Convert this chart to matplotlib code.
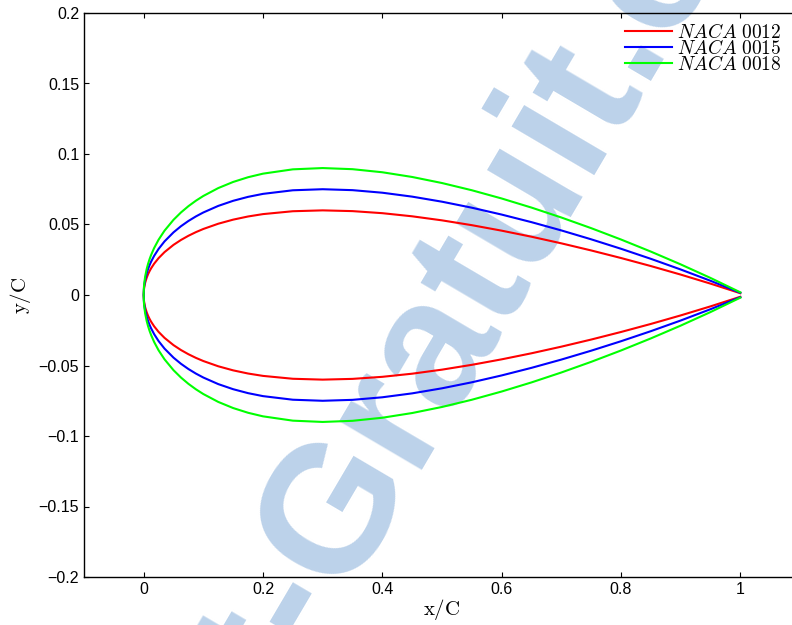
import matplotlib
matplotlib.use("Agg")
import matplotlib.pyplot as plt
from matplotlib.ticker import MultipleLocator, FuncFormatter

plt.rcParams['mathtext.fontset'] = 'cm'
plt.rcParams['font.family'] = ['Liberation Sans', 'DejaVu Sans']

# chord stations (x/C)
x_c = [0.0, 0.0005, 0.001, 0.0025, 0.005, 0.0075, 0.01, 0.0125, 0.0175, 0.025, 0.035,
       0.05, 0.0625, 0.075, 0.0875, 0.10, 0.125, 0.15, 0.175, 0.20, 0.25, 0.30, 0.35,
       0.40, 0.45, 0.50, 0.55, 0.60, 0.65, 0.70, 0.75, 0.80, 0.85, 0.90, 0.95, 1.0]
# half thickness (y/C) of the upper surface; the lower surface is its mirror
y_0012 = [0.0, 0.00395, 0.00556, 0.00872, 0.01221, 0.01485, 0.01704, 0.01894, 0.02218, 0.02615, 0.03043,
          0.03555, 0.03903, 0.04200, 0.04458, 0.04683, 0.05055, 0.05345, 0.05569, 0.05737, 0.05941, 0.06002, 0.05949,
          0.05803, 0.05581, 0.05294, 0.04952, 0.04563, 0.04133, 0.03664, 0.03160, 0.02623, 0.02053, 0.01448, 0.00807, 0.00126]
y_0015 = [0.0, 0.00494, 0.00695, 0.01090, 0.01527, 0.01856, 0.02130, 0.02367, 0.02772, 0.03268, 0.03804,
          0.04443, 0.04878, 0.05250, 0.05572, 0.05853, 0.06319, 0.06681, 0.06961, 0.07172, 0.07427, 0.07502, 0.07436,
          0.07254, 0.06976, 0.06617, 0.06191, 0.05704, 0.05166, 0.04580, 0.03950, 0.03279, 0.02566, 0.01810, 0.01008, 0.00158]
y_0018 = [0.0, 0.00592, 0.00834, 0.01308, 0.01832, 0.02227, 0.02556, 0.02841, 0.03327, 0.03922, 0.04565,
          0.05332, 0.05854, 0.06300, 0.06686, 0.07024, 0.07583, 0.08018, 0.08353, 0.08606, 0.08912, 0.09003, 0.08923,
          0.08705, 0.08371, 0.07941, 0.07429, 0.06845, 0.06199, 0.05496, 0.04741, 0.03935, 0.03079, 0.02172, 0.01210, 0.00189]

labels = [r'$NACA\ 0012$', r'$NACA\ 0015$', r'$NACA\ 0018$']
colors = ['#ff0000', '#0000ff', '#00ff00']

fig = plt.figure(figsize=(7.92, 6.25), dpi=100)
ax = fig.add_axes([84 / 792, 48 / 625, 716 / 792, 564 / 625])
ax.patch.set_alpha(0)

# watermark (behind the axes)
wm_x, wm_y, wm_rot = 342 / 792, 1 - 594 / 625, 59.5
wm_style = dict(fontsize=130, fontweight='bold', color='#bcd2ea', rotation=wm_rot,
                rotation_mode='anchor', va='baseline', zorder=-5, family='Liberation Sans')
fig.text(wm_x, wm_y, 'Gratuit.com', ha='left', **wm_style)
fig.text(wm_x, wm_y, 'Rapport-', ha='right', **wm_style)

for yy, lab, col in zip([y_0012, y_0015, y_0018], labels, colors):
    xs = list(reversed(x_c)) + x_c[1:]
    ys = list(reversed(yy)) + [-v for v in yy[1:]]
    ax.plot(xs, ys, color=col, lw=1.5, label=lab, solid_joinstyle='round')

ax.set_xlim(-0.1, 1.1)
ax.set_ylim(-0.2, 0.2)
ax.xaxis.set_major_locator(MultipleLocator(0.2))
ax.yaxis.set_major_locator(MultipleLocator(0.05))
fmt = FuncFormatter(lambda v, p: f'{round(v, 4):g}'.replace('-', '\u2212'))
ax.xaxis.set_major_formatter(fmt)
ax.yaxis.set_major_formatter(fmt)
ax.tick_params(direction='in', length=3.6, width=0.8, labelsize=11.5, top=True, right=True,
               colors='black')
for s in ax.spines.values():
    s.set_linewidth(1.0)

ax.set_xlabel(r'$\mathrm{x/C}$', fontsize=15, labelpad=0)
ax.set_ylabel(r'$\mathrm{y/C}$', fontsize=15, labelpad=4)

leg = ax.legend(loc='upper left', bbox_to_anchor=(625 / 792, 1 - 23 / 625),
                bbox_transform=fig.transFigure, frameon=False, fontsize=14,
                handlelength=2.4, handletextpad=0.26, labelspacing=-0.15, borderpad=0,
                borderaxespad=0)

fig.savefig('out.png', dpi=100)
